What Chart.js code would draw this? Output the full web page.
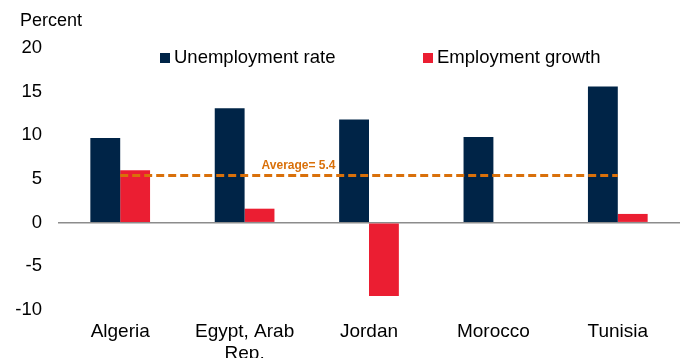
<!DOCTYPE html>
<html>
<head>
<meta charset="utf-8">
<script src="https://cdn.jsdelivr.net/npm/chart.js@4"></script>
<style>
  html, body { margin: 0; padding: 0; background: #fff; }
  #wrap { width: 680px; height: 358px; }
</style>
</head>
<body>
<div id="wrap"><canvas id="myChart"></canvas></div>
<script>
// data
const countries = ["Algeria", ["Egypt, Arab", "Rep."], "Jordan", "Morocco", "Tunisia"];
const unemploymentRate = [9.7, 13.1, 11.8, 9.8, 15.6];
const employmentGrowth = [6.0, 1.6, -8.4, null, 1.0];
const averageValue = 5.4;
const averageLine = [5.4, 5.4, 5.4, 5.4, 5.4];
const yTicks = [-10, -5, 0, 5, 10, 15, 20];

const NAVY = "#002447";
const RED = "#EB1E32";
const ORANGE = "#D9700A";
const FONT = "'Liberation Sans', Arial, sans-serif";

// draws "Percent", the legend and the average label
const extras = {
  id: "extras",
  afterDraw(chart) {
    const ctx = chart.ctx;
    const x = chart.scales.x;
    const y = chart.scales.y;
    ctx.save();
    ctx.fillStyle = "#000";
    ctx.font = "18px " + FONT;
    ctx.textBaseline = "middle";
    ctx.textAlign = "left";
    ctx.fillText("Percent", 20, 21);

    // legend
    const items = [
      { label: chart.data.datasets[1].label, color: NAVY, x: 160 },
      { label: chart.data.datasets[2].label, color: RED, x: 423 },
    ];
    items.forEach((it) => {
      ctx.fillStyle = it.color;
      ctx.fillRect(it.x, 53, 10, 10);
      ctx.fillStyle = "#000";
      ctx.font = "18.5px " + FONT;
      ctx.fillText(it.label, it.x + 14, 58);
    });

    // average label
    ctx.fillStyle = ORANGE;
    ctx.font = "bold 12px 'Liberation Sans Narrow', 'Arial Narrow', " + FONT;
    ctx.textBaseline = "alphabetic";
    ctx.fillText("Average= " + averageValue, x.getPixelForValue(1) + 17, y.getPixelForValue(averageValue) - 7);
    ctx.restore();
  },
};

const ctx = document.getElementById("myChart").getContext("2d");
new Chart(ctx, {
  data: {
    labels: countries,
    datasets: [
      {
        type: "line",
        label: "Average",
        data: averageLine,
        borderColor: ORANGE,
        borderWidth: 3,
        borderDash: [8, 4],
        pointRadius: 0,
        fill: false,
        order: 0,
      },
      {
        type: "bar",
        label: "Unemployment rate",
        data: unemploymentRate,
        backgroundColor: NAVY,
        categoryPercentage: 0.48,
        barPercentage: 1.0,
        order: 1,
      },
      {
        type: "bar",
        label: "Employment growth",
        data: employmentGrowth,
        backgroundColor: RED,
        categoryPercentage: 0.48,
        barPercentage: 1.0,
        order: 1,
      },
    ],
  },
  options: {
    responsive: true,
    maintainAspectRatio: false,
    animation: false,
    layout: { padding: { top: 48, right: 0, bottom: 0, left: 0 } },
    plugins: {
      legend: { display: false },
      tooltip: { enabled: false },
    },
    scales: {
      x: {
        grid: { display: false },
        border: { display: false },
        ticks: {
          color: "#000",
          font: { family: FONT, size: 19, lineHeight: 1.15 },
          padding: 3,
          maxRotation: 0,
          autoSkip: false,
        },
        afterFit(scale) {
          scale.height = 48;
        },
      },
      y: {
        min: -10,
        max: 20,
        afterBuildTicks(scale) {
          scale.ticks = yTicks.map((v) => ({ value: v }));
        },
        grid: {
          drawTicks: false,
          color: (c) => (c.tick && c.tick.value === 0 ? "#8c8c8c" : "rgba(0,0,0,0)"),
          lineWidth: 1.5,
        },
        border: { display: false },
        ticks: {
          color: "#000",
          font: { family: FONT, size: 18.5 },
          padding: 16,
        },
        afterFit(scale) {
          scale.width = 58;
        },
      },
    },
  },
  plugins: [extras],
});
</script>
</body>
</html>
